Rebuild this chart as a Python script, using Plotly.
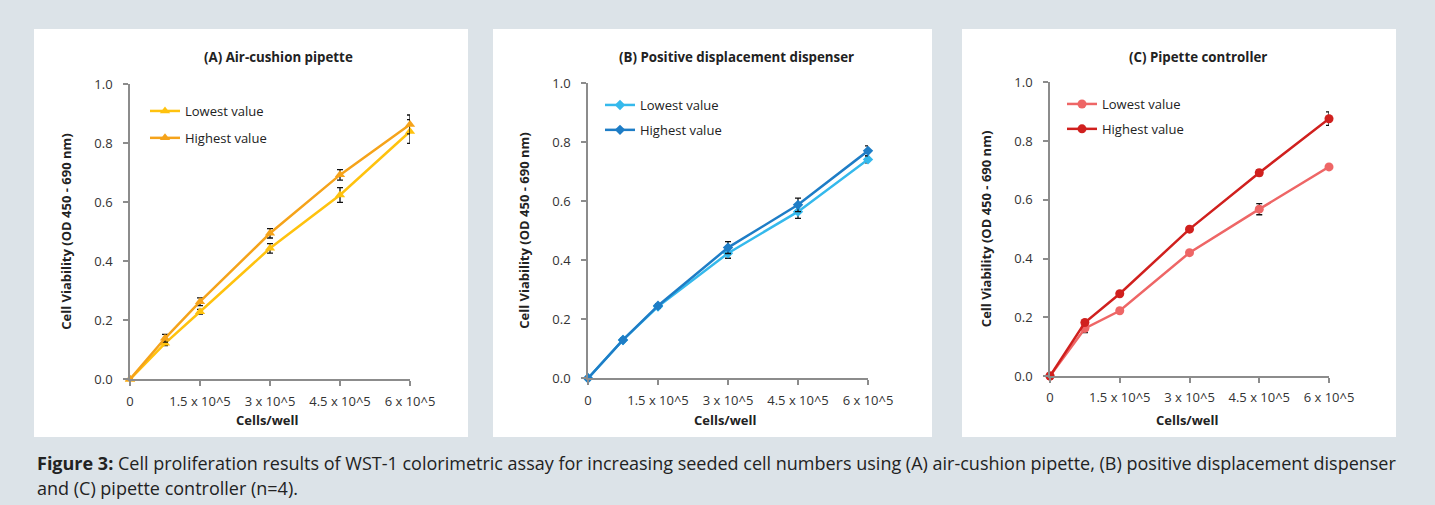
import plotly.graph_objects as go

W, H = 1435, 505

# ---------------- data ----------------
x_vals = [0, 0.75, 1.5, 3, 4.5, 6]
x_tickvals = [0, 1.5, 3, 4.5, 6]
x_ticktext = ["0", "1.5 x 10^5", "3 x 10^5", "4.5 x 10^5", "6 x 10^5"]
y_tickvals = [0.0, 0.2, 0.4, 0.6, 0.8, 1.0]

titles = ["(A) Air-cushion pipette", "(B) Positive displacement dispenser", "(C) Pipette controller"]
series_names = ["Lowest value", "Highest value"]

a_low = [0.0, 0.122, 0.229, 0.444, 0.625, 0.840]
a_low_err = [0.0, 0.008, 0.008, 0.016, 0.025, 0.040]
a_high = [0.0, 0.139, 0.263, 0.495, 0.693, 0.864]
a_high_err = [0.0, 0.013, 0.013, 0.016, 0.018, 0.032]

b_low = [0.0, 0.130, 0.243, 0.424, 0.565, 0.742]
b_low_err = [0.0, 0.005, 0.006, 0.017, 0.023, 0.012]
b_high = [0.0, 0.130, 0.246, 0.443, 0.588, 0.771]
b_high_err = [0.0, 0.005, 0.006, 0.020, 0.023, 0.017]

c_low = [0.0, 0.162, 0.222, 0.420, 0.568, 0.712]
c_low_err = [0.0, 0.014, 0.006, 0.006, 0.019, 0.008]
c_high = [0.0, 0.182, 0.280, 0.500, 0.692, 0.876]
c_high_err = [0.0, 0.008, 0.006, 0.006, 0.010, 0.023]

caption_bold = "Figure 3:"
caption_line1 = " Cell proliferation results of WST-1 colorimetric assay for increasing seeded cell numbers using (A) air-cushion pipette, (B) positive displacement dispenser"
caption_line2 = "and (C) pipette controller (n=4)."

# ---------------- styles ----------------
panels = [
    dict(low=a_low, low_err=a_low_err, high=a_high, high_err=a_high_err,
         colors=("#FFC20E", "#F5A31A"), symbol="triangle-up",
         plot=(130, 410, 84.3, 379.3), box=(34, 468, 29, 437), legend_xy=(145, 96)),
    dict(low=b_low, low_err=b_low_err, high=b_high, high_err=b_high_err,
         colors=("#35B9EC", "#1E7DC6"), symbol="diamond",
         plot=(588, 868, 83.3, 378.3), box=(493, 932, 29, 437), legend_xy=(600, 90)),
    dict(low=c_low, low_err=c_low_err, high=c_high, high_err=c_high_err,
         colors=("#EE6666", "#D0201E"), symbol="circle",
         plot=(1050, 1329, 82.3, 376.0), box=(962, 1396, 29, 437), legend_xy=(1062, 89)),
]

FONT = "Open Sans"
TXT = "#222222"
AXIS = "#8C8C8C"

fig = go.Figure()
layout = dict(
    width=W, height=H,
    margin=dict(l=0, r=0, t=0, b=0, pad=0, autoexpand=False),
    paper_bgcolor="#DCE3E8",
    plot_bgcolor="rgba(0,0,0,0)",
    font=dict(family=FONT, color=TXT, size=13),
    shapes=[], annotations=[],
)

def px_x(p):
    return p / W

def px_y(p):
    return 1 - p / H

for i, p in enumerate(panels):
    n = "" if i == 0 else str(i + 1)
    xa, ya = "x" + n, "y" + n
    leg = "legend" + n
    x0, x1, y0, y1 = p["plot"]
    for k, (vals, errs) in enumerate([(p["low"], p["low_err"]), (p["high"], p["high_err"])]):
        fig.add_trace(go.Scatter(
            x=x_vals, y=vals, mode="lines+markers", name=series_names[k],
            xaxis=xa, yaxis=ya, legend=leg, legendgroup=f"g{i}{k}",
            line=dict(color=p["colors"][k], width=2.5),
            marker=dict(symbol=p["symbol"], size=9 if p["symbol"] != "diamond" else 8,
                        color=p["colors"][k]),
            error_y=dict(type="data", array=errs, visible=True, color="#111111",
                         thickness=1.3, width=3),
            cliponaxis=False,
        ))
    layout["xaxis" + n] = dict(
        domain=[px_x(x0), px_x(x1)], anchor=ya, range=[0, 6], automargin=False,
        tickvals=x_tickvals, ticktext=x_ticktext,
        showgrid=False, zeroline=False, showline=True, linecolor=AXIS, linewidth=1.5,
        ticks="outside", ticklen=5, tickcolor=AXIS, tickwidth=1.5,
        tickfont=dict(size=13, color="#333333"), ticklabelstandoff=4,
    )
    layout["yaxis" + n] = dict(
        domain=[px_y(y1), px_y(y0)], anchor=xa, range=[0, 1], automargin=False,
        tickvals=y_tickvals, tickformat=".1f",
        showgrid=False, zeroline=False, showline=True, linecolor=AXIS, linewidth=1.5,
        ticks="outside", ticklen=5, tickcolor=AXIS, tickwidth=1.5,
        tickfont=dict(size=13, color="#333333"), ticklabelstandoff=8,
    )
    lx, ly = p["legend_xy"]
    layout[leg] = dict(
        x=px_x(lx), y=px_y(ly), xanchor="left", yanchor="top",
        bgcolor="rgba(0,0,0,0)", font=dict(size=13, color=TXT),
        tracegroupgap=7 if i == 0 else 5, itemwidth=30,
    )
    bx0, bx1, by0, by1 = p["box"]
    layout["shapes"].append(dict(
        type="rect", xref="paper", yref="paper", layer="below",
        x0=px_x(bx0), x1=px_x(bx1), y0=px_y(by1), y1=px_y(by0),
        fillcolor="white", line=dict(width=0),
    ))
    layout["annotations"].append(dict(
        text="<b>" + titles[i] + "</b>", xref="paper", yref="paper",
        x=px_x((x0 + x1) / 2 + 8), y=px_y(57), xanchor="center", yanchor="middle",
        showarrow=False, font=dict(size=13.3, color=TXT),
    ))
    layout["annotations"].append(dict(
        text="<b>Cell Viability (OD 450 - 690 nm)</b>", xref="paper", yref="paper",
        x=px_x(x0 - 64), y=px_y((y0 + y1) / 2), xanchor="center", yanchor="middle",
        textangle=-90, showarrow=False, font=dict(size=13, color=TXT),
    ))
    layout["annotations"].append(dict(
        text="<b>Cells/well</b>", xref="paper", yref="paper",
        x=px_x((x0 + x1) / 2 - 3), y=px_y(420), xanchor="center", yanchor="middle",
        showarrow=False, font=dict(size=13, color=TXT),
    ))

layout["annotations"].append(dict(
    text="<b>" + caption_bold + "</b>" + caption_line1, xref="paper", yref="paper",
    x=px_x(35), y=px_y(463), xanchor="left", yanchor="middle", showarrow=False,
    font=dict(size=18, color=TXT),
))
layout["annotations"].append(dict(
    text=caption_line2, xref="paper", yref="paper",
    x=px_x(35), y=px_y(488), xanchor="left", yanchor="middle", showarrow=False,
    font=dict(size=18, color=TXT),
))

fig.update_layout(**layout)
fig.write_html(
    "out.html",
    config={"displayModeBar": False},
    post_script="document.body.style.margin='0';document.body.style.overflow='hidden';",
)
